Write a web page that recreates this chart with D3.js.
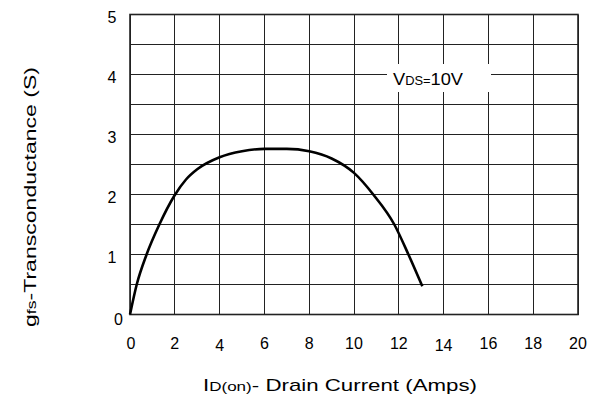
<!DOCTYPE html>
<html>
<head>
<meta charset="utf-8">
<script src="https://cdn.jsdelivr.net/npm/d3@7/dist/d3.min.js"></script>
<style>
  body { margin: 0; background: #fff; }
  text { font-family: "Liberation Sans", Arial, sans-serif; fill: #000; }
</style>
</head>
<body>
<div id="chart"></div>
<script>
// drain current (A) vs transconductance (S)
var currentA = [0, 0.3, 0.74, 1.31, 1.98, 2.5, 3, 4, 5, 6, 7, 8, 9, 10, 10.86, 11.8, 12.43, 13.05];
var gfsS     = [0, 0.5, 1, 1.5, 1.98, 2.25, 2.42, 2.62, 2.72, 2.76, 2.76, 2.72, 2.6, 2.36, 2, 1.5, 1, 0.47];

var xTicks = [0, 2, 4, 6, 8, 10, 12, 14, 16, 18, 20];
var yTicks = [0, 1, 2, 3, 4, 5];
var yGrid = [0, 0.5, 1, 1.5, 2, 2.5, 3, 3.5, 4, 4.5, 5];

var width = 600, height = 404;

var svg = d3.select("#chart")
    .append("svg")
    .attr("width", width)
    .attr("height", height);

var x = d3.scaleLinear().domain([0, 20]).range([130, 578]);
var y = d3.scaleLinear().domain([0, 5]).range([314.5, 14.5]);

var gridColor = "#222";

// grid
svg.append("g").selectAll("line")
    .data(xTicks)
    .enter()
    .append("line")
    .attr("x1", (d) => x(d)).attr("x2", (d) => x(d))
    .attr("y1", y(0)).attr("y2", y(5))
    .attr("stroke", gridColor)
    .attr("stroke-width", 1)
    .attr("shape-rendering", "crispEdges");

svg.append("g").selectAll("line")
    .data(yGrid)
    .enter()
    .append("line")
    .attr("x1", x(0)).attr("x2", x(20))
    .attr("y1", (d) => y(d)).attr("y2", (d) => y(d))
    .attr("stroke", gridColor)
    .attr("stroke-width", 1)
    .attr("shape-rendering", "crispEdges");

// frame
svg.append("rect")
    .attr("x", x(0)).attr("y", y(5))
    .attr("width", x(20) - x(0)).attr("height", y(0) - y(5))
    .attr("fill", "none")
    .attr("stroke", gridColor)
    .attr("stroke-width", 1.6);

// tick labels
svg.append("g").selectAll("text")
    .data(xTicks)
    .enter()
    .append("text")
    .attr("x", (d) => x(d) + (d == 0 ? 1 : 0))
    .attr("y", (d) => (d == 4 || d == 14) ? 350.5 : 349)
    .attr("text-anchor", "middle")
    .style("font-size", "16px")
    .text((d) => d);

svg.append("g").selectAll("text")
    .data(yTicks)
    .enter()
    .append("text")
    .attr("x", (d) => d == 0 ? 123 : 116.5)
    .attr("y", (d) => y(d) + (d == 0 ? 10 : 8.5))
    .attr("text-anchor", "end")
    .style("font-size", "16px")
    .text((d) => d);

// curve
var line = d3.line()
    .x((d) => x(d[0]))
    .y((d) => y(d[1]))
    .curve(d3.curveMonotoneX);

svg.append("path")
    .datum(d3.zip(currentA, gfsS))
    .attr("d", line)
    .attr("fill", "none")
    .attr("stroke", "#000")
    .attr("stroke-width", 2.6)
    .attr("stroke-linejoin", "round");

// VDS label on white patch
svg.append("rect")
    .attr("x", 387).attr("y", 64)
    .attr("width", 104).attr("height", 28)
    .attr("fill", "#fff");

var vds = svg.append("text")
    .attr("x", 393)
    .attr("y", 85)
    .style("font-size", "17px")
    .attr("textLength", 70)
    .attr("lengthAdjust", "spacingAndGlyphs");
vds.append("tspan").text("V");
vds.append("tspan").style("font-size", "12px").text("DS=");
vds.append("tspan").text("10V");

// axis titles
var xt = svg.append("text")
    .attr("x", 203)
    .attr("y", 391)
    .style("font-size", "17px")
    .attr("textLength", 274)
    .attr("lengthAdjust", "spacingAndGlyphs");
xt.append("tspan").text("I");
xt.append("tspan").style("font-size", "13px").text("D(on)");
xt.append("tspan").text("- Drain Current (Amps)");

var yt = svg.append("text")
    .attr("transform", "translate(36,327) rotate(-90)")
    .style("font-size", "17px")
    .attr("textLength", 260)
    .attr("lengthAdjust", "spacingAndGlyphs");
yt.append("tspan").text("g");
yt.append("tspan").style("font-size", "13px").text("fs");
yt.append("tspan").text("-Transconductance (S)");
</script>
</body>
</html>
